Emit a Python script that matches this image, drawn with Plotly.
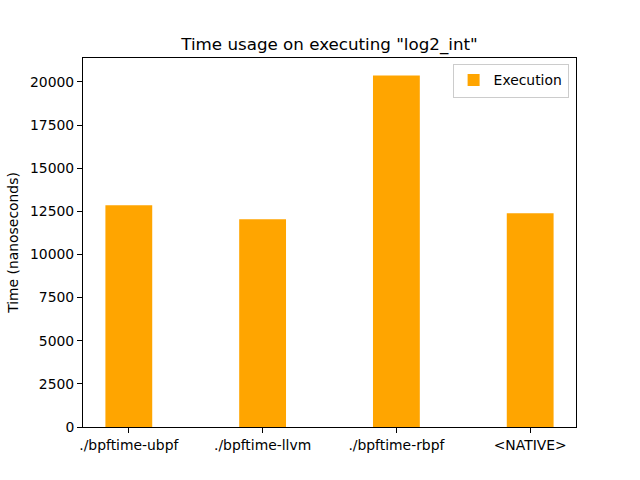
import plotly.graph_objects as go

categories = ["./bpftime-ubpf", "./bpftime-llvm", "./bpftime-rbpf", "<NATIVE>"]
execution = [12850, 12040, 20370, 12390]
yticks = [0, 2500, 5000, 7500, 10000, 12500, 15000, 17500, 20000]

fig = go.Figure()
fig.add_trace(go.Bar(x=list(range(len(categories))), y=execution, width=0.35,
                     marker=dict(color="orange", line=dict(width=0)), name="Execution"))

ymax = max(execution) * 1.05
fig.update_layout(
    width=640, height=480,
    margin=dict(l=80, r=64, t=57.6, b=52.8),
    paper_bgcolor="white", plot_bgcolor="white",
    font=dict(family="DejaVu Sans", size=13.9, color="black"),
    title=dict(text='Time usage on executing "log2_int"', x=0.5, xref="paper", xanchor="center",
               y=1 - 44 / 480, yanchor="middle", font=dict(size=16.7)),
    showlegend=True,
    legend=dict(x=0.985, y=0.985, xanchor="right", yanchor="top",
                bordercolor="#cccccc", borderwidth=1, bgcolor="rgba(255,255,255,0.8)",
                font=dict(size=13.9), tracegroupgap=0),
    xaxis=dict(range=[-0.3425, 3.3425], tickmode="array",
               tickvals=list(range(len(categories))), ticktext=categories,
               showline=True, linecolor="black", linewidth=1, mirror=True,
               ticks="outside", ticklen=5, tickcolor="black", showgrid=False, zeroline=False),
    yaxis=dict(range=[0, ymax], tickmode="array", tickvals=yticks,
               ticktext=[str(v) for v in yticks],
               title=dict(text="Time (nanoseconds)", font=dict(size=13.9), standoff=8),
               showline=True, linecolor="black", linewidth=1, mirror=True,
               ticks="outside", ticklen=5, tickcolor="black", showgrid=False, zeroline=False),
)
fig.write_html("out.html")
